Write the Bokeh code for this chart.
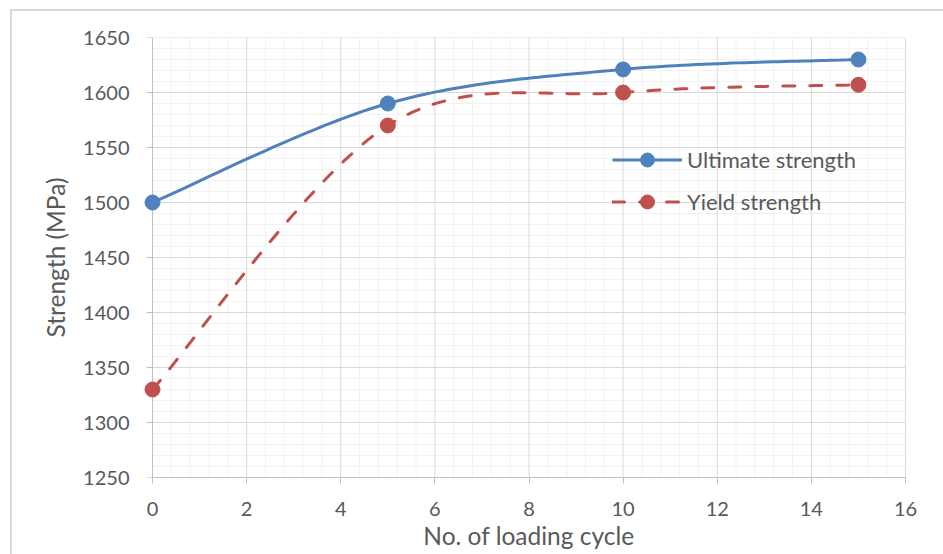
import numpy as np
from bokeh.plotting import figure
from bokeh.models import Range1d, FixedTicker, Legend, LegendItem
from bokeh.embed import file_html
from bokeh.resources import INLINE

# ---- data ----
cycles = [0, 5, 10, 15]
ultimate_strength = [1500, 1590, 1621, 1630]
yield_strength = [1330, 1570, 1600, 1607]

x_ticks = [0, 2, 4, 6, 8, 10, 12, 14, 16]
y_ticks = [1250, 1300, 1350, 1400, 1450, 1500, 1550, 1600, 1650]
x_minor_step = 0.4
y_minor_step = 10

series_names = ["Ultimate strength", "Yield strength"]
x_title = "No. of loading cycle"
y_title = "Strength (MPa)"

BLUE = "#4F81BD"
RED = "#C0504D"
TXT = "#595959"
AXIS = "#bfbfbf"
FONT = "Lato"


def smooth(xs, ys, n=40):
    """Excel-like smoothed line: cubic Bezier through points (Catmull-Rom control points)."""
    P = np.column_stack([xs, ys]).astype(float)
    m = len(P)
    out = [P[0]]
    t = np.linspace(0, 1, n)[1:, None]
    for i in range(m - 1):
        p0 = P[max(i - 1, 0)]
        p1 = P[i]
        p2 = P[i + 1]
        p3 = P[min(i + 2, m - 1)]
        c1 = p1 + (p2 - p0) / 6.0
        c2 = p2 - (p3 - p1) / 6.0
        seg = (1 - t) ** 3 * p1 + 3 * (1 - t) ** 2 * t * c1 + 3 * (1 - t) * t ** 2 * c2 + t ** 3 * p2
        out.extend(seg)
    out = np.array(out)
    return out[:, 0], out[:, 1]


x0, x1 = x_ticks[0], x_ticks[-1]
y0, y1 = y_ticks[0], y_ticks[-1]

W, H = 935, 547
MB_L, MB_R, MB_T, MB_B = 124, 26, 26, 81
PAD = 0.34  # room around 0..16 so the first markers are not cut (symmetric to keep the title centred)

p = figure(
    width=W, height=H,
    x_range=Range1d(x0 - PAD, x1 + PAD), y_range=Range1d(y0, y1),
    output_backend="svg", toolbar_location=None,
    min_border_left=MB_L, min_border_right=MB_R, min_border_top=MB_T, min_border_bottom=MB_B,
)
p.styles = {"margin-left": "10px", "margin-top": "9px", "border": "2px solid #d9d9d9"}
p.outline_line_color = None
p.background_fill_color = "white"
p.border_fill_color = "white"
p.xgrid.visible = False
p.ygrid.visible = False

# ---- grid lines (drawn inside 0..16 / 1250..1650 only) ----
xm = [v for v in np.arange(x0, x1 + 1e-9, x_minor_step) if min(abs(v - t) for t in x_ticks) > 1e-6]
ym = [v for v in np.arange(y0, y1 + 1e-9, y_minor_step) if min(abs(v - t) for t in y_ticks) > 1e-6]
p.segment(x0=xm, y0=[y0] * len(xm), x1=xm, y1=[y1] * len(xm), line_color="#f2f2f2", line_width=1)
p.segment(x0=[x0] * len(ym), y0=ym, x1=[x1] * len(ym), y1=ym, line_color="#f2f2f2", line_width=1)
xM = x_ticks[1:]
yM = y_ticks[1:]
p.segment(x0=xM, y0=[y0] * len(xM), x1=xM, y1=[y1] * len(xM), line_color="#d9d9d9", line_width=1)
p.segment(x0=[x0] * len(yM), y0=yM, x1=[x1] * len(yM), y1=yM, line_color="#d9d9d9", line_width=1)

# ---- vertical axis line at x=0 with outward ticks (under the markers) ----
px_per_unit = (W - MB_L - MB_R) / (x1 - x0 + 2 * PAD)
tick_len = 6 / px_per_unit
p.segment(x0=[x0], y0=[y0], x1=[x0], y1=[y1], line_color=AXIS, line_width=1)
p.segment(x0=[x0 - tick_len] * len(y_ticks), y0=y_ticks, x1=[x0] * len(y_ticks), y1=y_ticks,
          line_color=AXIS, line_width=1)

# ---- series ----
ux, uy = smooth(cycles, ultimate_strength)
yx, yy = smooth(cycles, yield_strength)
l1 = p.line(ux, uy, line_color=BLUE, line_width=3)
m1 = p.scatter(cycles, ultimate_strength, size=15, marker="circle", fill_color=BLUE, line_color=BLUE)
l2 = p.line(yx, yy, line_color=RED, line_width=3, line_dash="12 15", line_cap="round")
m2 = p.scatter(cycles, yield_strength, size=15, marker="circle", fill_color=RED, line_color=RED)

# ---- axes ----
for ax, ticks in ((p.xaxis, x_ticks), (p.yaxis, y_ticks)):
    ax.ticker = FixedTicker(ticks=ticks)
    ax.axis_line_color = AXIS
    ax.axis_line_width = 1
    ax.major_tick_line_color = AXIS
    ax.major_tick_out = 6
    ax.major_tick_in = 0
    ax.minor_tick_out = 0
    ax.minor_tick_in = 0
    ax.major_label_text_font = FONT
    ax.major_label_text_font_size = "20px"
    ax.major_label_text_color = TXT
    ax.axis_label_text_font = FONT
    ax.axis_label_text_font_size = "24.5px"
    ax.axis_label_text_font_style = "normal"
    ax.axis_label_text_color = TXT

p.xaxis.bounds = (x0, x1)
p.xaxis.axis_label = x_title
p.xaxis.major_label_standoff = 18
p.xaxis.axis_label_standoff = 2

# the y axis at the frame edge only carries the labels; its line/ticks are drawn at x=0 above
p.yaxis.axis_line_color = None
p.yaxis.major_tick_line_color = None
p.yaxis.major_tick_out = 0
p.yaxis.axis_label = y_title
p.yaxis.major_label_standoff = 7
p.yaxis.axis_label_standoff = 10

# ---- legend ----
legend = Legend(
    items=[LegendItem(label=series_names[0], renderers=[l1, m1]),
           LegendItem(label=series_names[1], renderers=[l2, m2])],
    location=(476, 258),
    glyph_width=70, glyph_height=35, label_height=35, spacing=7,
    label_standoff=5, padding=0, margin=0,
    background_fill_alpha=0, border_line_alpha=0,
    label_text_font=FONT, label_text_font_size="22px", label_text_color=TXT,
)
p.add_layout(legend)

open("out.html", "w").write(file_html(p, INLINE))
